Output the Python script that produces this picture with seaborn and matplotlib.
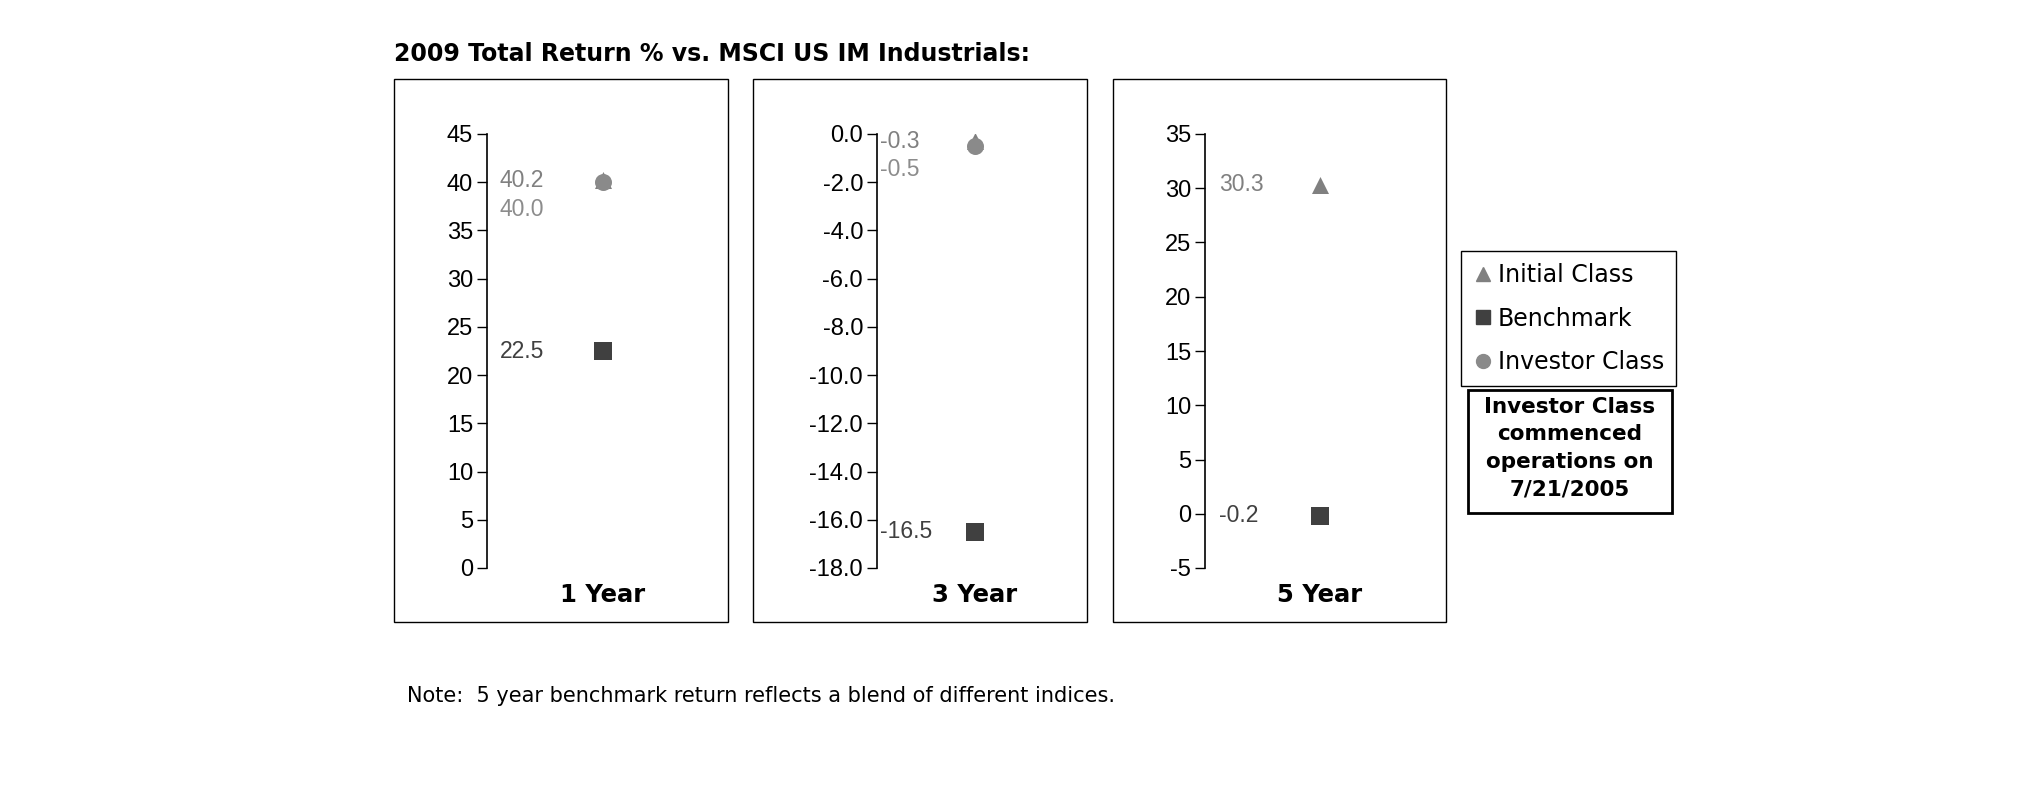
import numpy as np
import pandas as pd
import matplotlib
matplotlib.use("Agg")
import matplotlib.pyplot as plt
import seaborn as sns
from matplotlib.patches import Rectangle
from matplotlib.lines import Line2D

# ---------------- data ----------------
periods = ["1 Year", "3 Year", "5 Year"]
series_names = ["Initial Class", "Benchmark", "Investor Class"]
initial_class = [40.2, -0.3, 30.3]
benchmark = [22.5, -16.5, -0.2]
investor_class = [40.0, -0.5, np.nan]

yticks_1yr = [0, 5, 10, 15, 20, 25, 30, 35, 40, 45]
yticks_3yr = [0.0, -2.0, -4.0, -6.0, -8.0, -10.0, -12.0, -14.0, -16.0, -18.0]
yticks_5yr = [-5, 0, 5, 10, 15, 20, 25, 30, 35]
tick_formats = ["{:.0f}", "{:.1f}", "{:.0f}"]

title_text = "2009 Total Return % vs. MSCI US IM Industrials:"
note_lines = ["Investor Class", "commenced", "operations on", "7/21/2005"]
footnote_text = "Note:  5 year benchmark return reflects a blend of different indices."

# ---------------- styling ----------------
sns.set_theme(style="white")
plt.rcParams["font.family"] = ["DejaVu Sans"]
plt.rcParams["text.color"] = "black"
plt.rcParams["axes.labelcolor"] = "black"
plt.rcParams["xtick.color"] = "black"
plt.rcParams["ytick.color"] = "black"

W, H = 2025, 806
fig = plt.figure(figsize=(W / 100, H / 100), dpi=100)
fig.patch.set_facecolor("white")

def fx(px):
    return px / W

def fy(py):
    return 1 - py / H

colors = {"Initial Class": "#808080", "Benchmark": "#404040", "Investor Class": "#8a8a8a"}
label_colors = {"Initial Class": "#808080", "Benchmark": "#404040", "Investor Class": "#8c8c8c"}
markers = {"Initial Class": "^", "Benchmark": "s", "Investor Class": "o"}
marker_sizes = {"Initial Class": 150, "Benchmark": 150, "Investor Class": 150}

# panel geometry (pixels): box left/right, spine x, marker x
panels = [
    dict(box=(394, 728), spine=487, marker=603, ticks=yticks_1yr, label_dx=13,
         dy={"Initial Class": 0, "Benchmark": 0, "Investor Class": -27}),
    dict(box=(753, 1087), spine=877, marker=975, ticks=yticks_3yr, label_dx=3,
         dy={"Initial Class": 0, "Benchmark": 0, "Investor Class": -23}),
    dict(box=(1113, 1446), spine=1205, marker=1320, ticks=yticks_5yr, label_dx=14,
         dy={"Initial Class": 0, "Benchmark": 0, "Investor Class": 0}),
]
box_top, box_bot = 79, 622
ax_top, ax_bot = 134, 568

values = {"Initial Class": initial_class, "Benchmark": benchmark, "Investor Class": investor_class}

for i, p in enumerate(panels):
    # outer box
    bl, br = p["box"]
    fig.patches.append(Rectangle((fx(bl), fy(box_bot)), (br - bl) / W, (box_bot - box_top) / H,
                                 transform=fig.transFigure, fill=False, edgecolor="black",
                                 linewidth=1.0, zorder=0))
    left = p["spine"]
    right = 2 * p["marker"] - p["spine"]
    ax = fig.add_axes([fx(left), fy(ax_bot), (right - left) / W, (ax_bot - ax_top) / H])
    ax.set_facecolor("none")

    rows = []
    for s in series_names:
        v = values[s][i]
        if not np.isnan(v):
            rows.append({"period": periods[i], "series": s, "value": v})
    df = pd.DataFrame(rows)
    for s in series_names:
        sub = df[df["series"] == s]
        if len(sub) == 0:
            continue
        sns.scatterplot(data=sub, x="period", y="value", marker=markers[s],
                        color=colors[s], s=marker_sizes[s], linewidth=0, ax=ax,
                        legend=False, zorder=3)
        v = sub["value"].iloc[0]
        ax.annotate("{:.1f}".format(v), xy=(0, v), xycoords=("axes fraction", "data"),
                    xytext=(p["label_dx"] * 0.72, p["dy"][s] * 0.72), textcoords="offset points",
                    ha="left", va="center", fontsize=16.5, color=label_colors[s],
                    family="Liberation Sans")

    ticks = p["ticks"]
    ax.set_ylim(min(ticks), max(ticks))
    ax.set_yticks(ticks)
    ax.set_yticklabels([tick_formats[i].format(t) for t in ticks], family="Liberation Sans",
                       fontsize=17, color="black")
    ax.set_xlim(-0.5, 0.5)
    ax.set_xticks([0])
    ax.set_xticklabels([periods[i]], fontweight="bold", fontsize=17.5, color="black")
    ax.set_xlabel("")
    ax.set_ylabel("")
    ax.tick_params(axis="y", direction="out", length=7, width=1, color="black", pad=3, left=True)
    ax.tick_params(axis="x", length=0, pad=11)
    for side in ["top", "right", "bottom"]:
        ax.spines[side].set_visible(False)
    ax.spines["left"].set_color("black")
    ax.spines["left"].set_linewidth(1.2)
    ax.grid(False)

# title
fig.text(fx(394), fy(54), title_text, ha="left", va="center", fontweight="bold", fontsize=17,
         color="black")

# legend
handles = [Line2D([], [], marker=markers[s], color=colors[s], linestyle="None", markersize=10)
           for s in series_names]
leg = fig.legend(handles, series_names, loc="upper left", bbox_to_anchor=(fx(1461), fy(251)),
                 frameon=True, fancybox=False, edgecolor="black", framealpha=1, fontsize=17,
                 handletextpad=0.16, handlelength=0.9, borderpad=0.5, labelspacing=0.84,
                 borderaxespad=0)
leg.get_frame().set_linewidth(1.0)
for t in leg.get_texts():
    t.set_color("black")

# note box
fig.patches.append(Rectangle((fx(1468), fy(513)), (1672 - 1468) / W, (513 - 390) / H,
                             transform=fig.transFigure, fill=False, edgecolor="black",
                             linewidth=2.0))
fig.text(fx(1570), fy(448), "\n".join(note_lines), ha="center", va="center",
         fontweight="bold", fontsize=15.5, linespacing=1.46, color="black")

# footnote
fig.text(fx(407), fy(696), footnote_text, ha="left", va="center", fontsize=15, color="black")

fig.savefig("out.png", dpi=100, facecolor="white")
